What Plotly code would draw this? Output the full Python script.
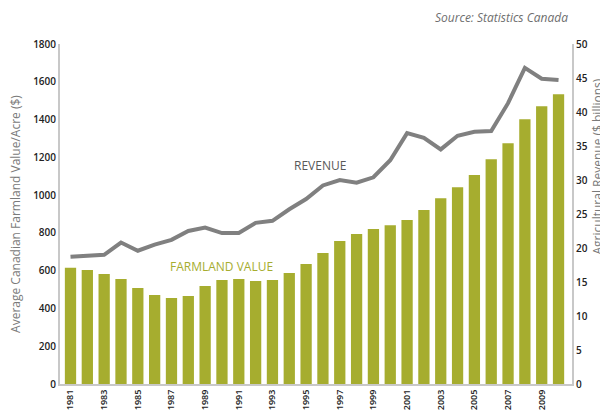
import plotly.graph_objects as go

years = list(range(1981, 2011))
farmland_value = [615, 603, 582, 556, 508, 471, 455, 466, 519, 550,
                  556, 545, 550, 587, 635, 693, 757, 794, 820, 841,
                  868, 921, 984, 1042, 1106, 1190, 1275, 1402, 1471, 1534]
revenue = [18.7, 18.9, 19.0, 20.8, 19.6, 20.5, 21.2, 22.5, 23.0, 22.2,
           22.2, 23.7, 24.0, 25.7, 27.2, 29.2, 30.0, 29.6, 30.4, 32.9,
           36.9, 36.2, 34.5, 36.5, 37.1, 37.2, 41.3, 46.5, 44.9, 44.7]
x_ticks = list(range(1981, 2010, 2))
left_ticks = list(range(0, 1801, 200))
right_ticks = list(range(0, 51, 5))

BAR = "#a6ad2f"
LINE = "#808080"
AX = "#c8c8c8"
FONT = "Open Sans"

fig = go.Figure()
fig.add_trace(go.Bar(x=years, y=farmland_value, marker_color=BAR,
                     marker_line_width=0, width=0.67, yaxis="y"))
fig.add_trace(go.Scatter(x=years, y=revenue, mode="lines",
                         line=dict(color=LINE, width=4), yaxis="y2"))

tickfont = dict(family=FONT, size=10, color="#222222", weight=600)
fig.update_layout(
    width=600, height=408,
    margin=dict(l=52, r=36, t=36, b=32, autoexpand=False),
    paper_bgcolor="white", plot_bgcolor="white",
    showlegend=False,
    xaxis=dict(range=[1980.376, 2010.80], tickvals=x_ticks,
               ticktext=[str(t) for t in x_ticks], tickangle=-90,
               tickfont=dict(family=FONT, size=9, color="#222222", weight=600),
               showgrid=False, showline=True, linecolor=AX, linewidth=2,
               ticks="", zeroline=False, automargin=False),
    yaxis=dict(range=[0, 1800], tickvals=left_ticks, tickfont=tickfont,
               showgrid=False, showline=True, linecolor=AX, linewidth=2,
               ticks="", zeroline=False, automargin=False),
    yaxis2=dict(range=[0, 50], tickvals=right_ticks, tickfont=tickfont,
                overlaying="y", side="right",
                showgrid=False, showline=True, linecolor=AX, linewidth=2,
                ticks="", zeroline=False, automargin=False),
    annotations=[
        dict(text="Average Canadian Farmland Value/Acre ($)", textangle=-90,
             xref="paper", yref="paper", x=-0.088, y=0.5,
             xanchor="center", yanchor="middle", showarrow=False,
             font=dict(family=FONT, size=12, color="#7a7a7a")),
        dict(text="Agricultural Revenue ($ billions)", textangle=-90,
             xref="paper", yref="paper", x=1.049, y=0.64,
             xanchor="center", yanchor="middle", showarrow=False,
             font=dict(family=FONT, size=12, color="#7a7a7a")),
        dict(text="<i>Source: Statistics Canada</i>",
             xref="paper", yref="paper", x=0.996, y=1.079,
             xanchor="right", yanchor="middle", showarrow=False,
             font=dict(family=FONT, size=12, color="#6e6e6e")),
        dict(text="REVENUE", xref="paper", yref="paper",
             x=(320 - 60) / 512, y=(384 - 165) / 340,
             xanchor="center", yanchor="middle", showarrow=False,
             font=dict(family=FONT, size=12, color="#595959")),
        dict(text="FARMLAND VALUE", xref="paper", yref="paper",
             x=(221 - 60) / 512, y=(384 - 266) / 340,
             xanchor="center", yanchor="middle", showarrow=False,
             font=dict(family=FONT, size=12, color=BAR)),
    ],
)

fig.write_html("out.html")
